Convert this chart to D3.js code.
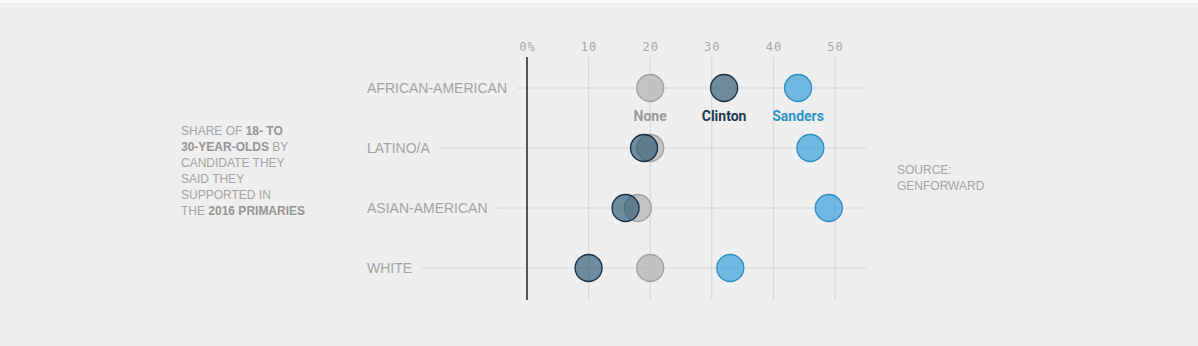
<!DOCTYPE html>
<html>
<head>
<meta charset="utf-8">
<script src="https://cdn.jsdelivr.net/npm/d3@7"></script>
<style>
  body { margin: 0; background: #eeeeee; }
  svg { display: block; }
</style>
</head>
<body>
<div id="chart"></div>
<script>
const groups = ['AFRICAN-AMERICAN', 'LATINO/A', 'ASIAN-AMERICAN', 'WHITE'];
const noneVals = [20, 20, 18, 20];
const clintonVals = [32, 19, 16, 10];
const sandersVals = [44, 46, 49, 33];
const ticks = [0, 10, 20, 30, 40, 50];

const W = 1198, H = 346;

const svg = d3.select('#chart').append('svg')
  .attr('width', W).attr('height', H);

svg.append('rect').attr('width', W).attr('height', H).attr('fill', '#efefef');
svg.append('rect').attr('width', W).attr('height', 3).attr('fill', '#fafafa');

const x = d3.scaleLinear().domain([0, 50]).range([527, 835]);
const y = d3.scalePoint().domain(groups).range([88, 268]);

// vertical gridlines
svg.append('g').selectAll('line')
  .data(ticks.slice(1))
  .join('line')
  .attr('x1', d => x(d)).attr('x2', d => x(d))
  .attr('y1', 57).attr('y2', 300)
  .attr('stroke', '#d6d6d6').attr('stroke-width', 1);

// tick labels
svg.append('g').selectAll('text')
  .data(ticks)
  .join('text')
  .attr('x', d => x(d) + 0.5).attr('y', 51)
  .attr('text-anchor', 'middle')
  .attr('font-family', 'DejaVu Sans Mono')
  .attr('font-size', 12)
  .attr('letter-spacing', 1)
  .attr('fill', '#a6a6a6')
  .text(d => d === 0 ? '0%' : d);

// row labels + row lines
const rows = svg.append('g').selectAll('g')
  .data(groups)
  .join('g');

rows.append('text')
  .attr('x', 367).attr('y', d => y(d) + 5)
  .attr('font-family', 'Liberation Sans, Arial, sans-serif')
  .attr('font-size', 14)
  .attr('fill', '#a3a3a3')
  .text(d => d);

rows.each(function(d) {
  const g = d3.select(this);
  const w = g.select('text').node().getComputedTextLength();
  g.insert('line', 'text')
    .attr('x1', 367 + w + 10).attr('x2', 866)
    .attr('y1', y(d)).attr('y2', y(d))
    .attr('stroke', '#d6d6d6').attr('stroke-width', 1);
});

// zero axis
svg.append('line')
  .attr('x1', x(0)).attr('x2', x(0))
  .attr('y1', 57).attr('y2', 300)
  .attr('stroke', '#555').attr('stroke-width', 2);

const series = [
  { name: 'None', values: noneVals, fill: '#b4b4b4', stroke: '#a0a0a0', op: 0.75, label: '#9a9a9a' },
  { name: 'Sanders', values: sandersVals, fill: '#45a6dc', stroke: '#2a8cc4', op: 0.75, label: '#2c93c3' },
  { name: 'Clinton', values: clintonVals, fill: '#2b5572', stroke: '#142f44', op: 0.65, label: '#1d3a52' }
];

series.forEach(s => {
  svg.append('g').selectAll('circle')
    .data(groups.map((g, i) => ({ g, v: s.values[i] })))
    .join('circle')
    .attr('cx', d => x(d.v)).attr('cy', d => y(d.g))
    .attr('r', 13.5)
    .attr('fill', s.fill).attr('fill-opacity', s.op)
    .attr('stroke', s.stroke).attr('stroke-width', 1.3);
});

// series labels under first row
svg.append('g').selectAll('text')
  .data(series)
  .join('text')
  .attr('x', s => x(s.values[0]))
  .attr('y', 121)
  .attr('text-anchor', 'middle')
  .attr('font-family', 'Roboto, sans-serif')
  .attr('font-weight', 'bold')
  .attr('font-size', 14)
  .attr('fill', s => s.label)
  .text(s => s.name);

// left note
const note = [
  [['SHARE OF ', false], ['18- TO', true]],
  [['30-YEAR-OLDS', true], [' BY', false]],
  [['CANDIDATE THEY', false]],
  [['SAID THEY', false]],
  [['SUPPORTED IN', false]],
  [['THE ', false], ['2016 PRIMARIES', true]]
];
const noteText = svg.append('text')
  .attr('font-family', 'Liberation Sans, Arial, sans-serif')
  .attr('font-size', 12)
  .attr('fill', '#a3a3a3');
note.forEach((line, i) => {
  line.forEach((part, j) => {
    const t = noteText.append('tspan').text(part[0]);
    if (j === 0) t.attr('x', 181).attr('y', 135 + i * 16);
    if (part[1]) t.attr('font-weight', 'bold').attr('fill', '#959595');
  });
});

// source
const src = svg.append('text')
  .attr('font-family', 'Liberation Sans, Arial, sans-serif')
  .attr('font-size', 12)
  .attr('fill', '#a3a3a3');
['SOURCE:', 'GENFORWARD'].forEach((t, i) => {
  src.append('tspan').attr('x', 897).attr('y', 174 + i * 16).text(t);
});
</script>
</body>
</html>
